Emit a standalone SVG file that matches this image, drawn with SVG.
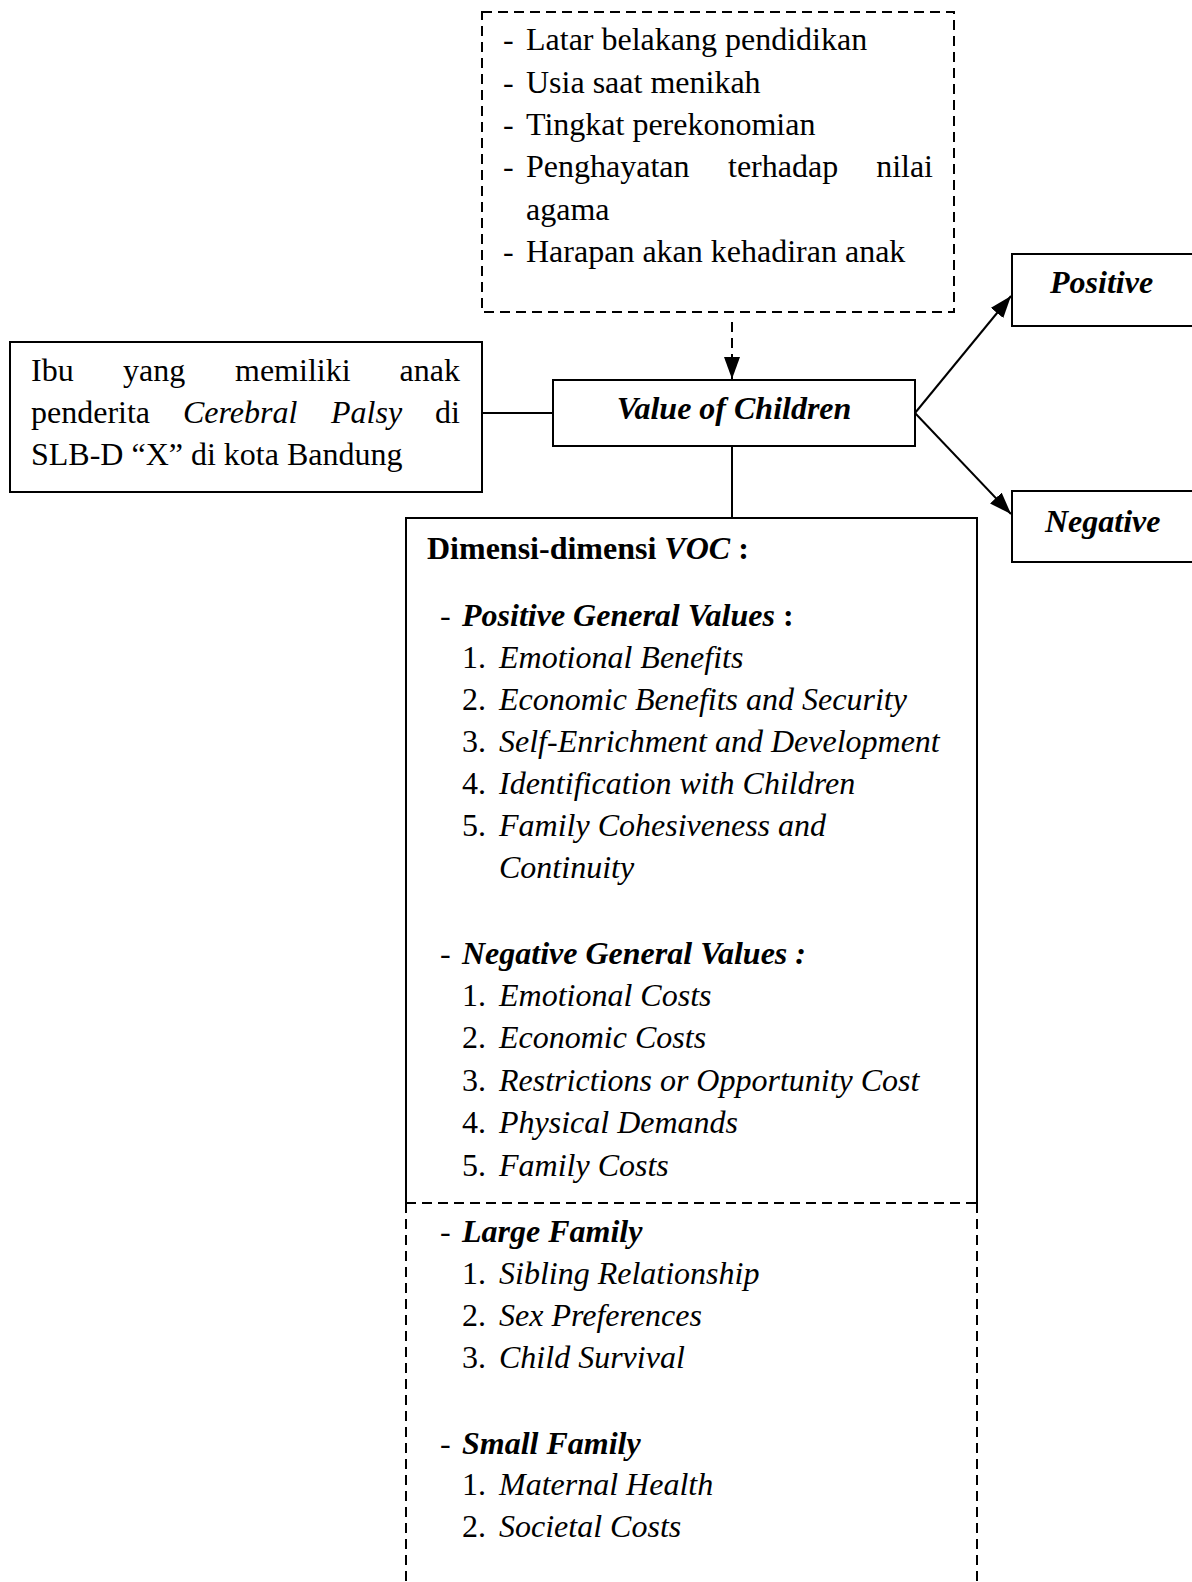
<svg xmlns="http://www.w3.org/2000/svg" width="1192" height="1582" viewBox="0 0 1192 1582">
<style>
.t{font-family:"Liberation Serif","Times New Roman",serif;font-size:32px;fill:#000}
.i{font-style:italic}
.b{font-weight:bold}
.e{text-anchor:end}
.box{fill:#fff;stroke:#000;stroke-width:2}
.dbox{fill:#fff;stroke:#000;stroke-width:2;stroke-dasharray:10 6}
.ln{fill:none;stroke:#000;stroke-width:2}
.dl{fill:none;stroke:#000;stroke-width:2;stroke-dasharray:10 6}
</style>
<defs>
<marker id="arr" viewBox="0 0 22 16" refX="22" refY="8" markerWidth="22" markerHeight="16" markerUnits="userSpaceOnUse" orient="auto">
<path d="M0,0 L22,8 L0,16 z" fill="#000"/>
</marker>
</defs>
<rect width="1192" height="1582" fill="#fff"/>

<g id="connectors">
<line class="dl" x1="732" y1="322" x2="732" y2="379" marker-end="url(#arr)"/>
<line class="ln" x1="482" y1="413" x2="553" y2="413"/>
<line class="ln" x1="732" y1="446" x2="732" y2="518"/>
<line class="ln" x1="915" y1="413" x2="1011" y2="296" marker-end="url(#arr)"/>
<line class="ln" x1="915" y1="413" x2="1011" y2="514" marker-end="url(#arr)"/>
</g>

<g id="factors">
<rect class="dbox" x="482" y="12" width="472" height="300"/>
<text class="t" x="503" y="50">-</text><text class="t" x="526" y="50">Latar belakang pendidikan</text>
<text class="t" x="503" y="92.5">-</text><text class="t" x="526" y="92.5">Usia saat menikah</text>
<text class="t" x="503" y="135">-</text><text class="t" x="526" y="135">Tingkat perekonomian</text>
<text class="t" x="503" y="177">-</text><text class="t" x="526" y="177">Penghayatan</text><text class="t" x="728" y="177">terhadap</text><text class="t e" x="933" y="177">nilai</text>
<text class="t" x="526" y="220">agama</text>
<text class="t" x="503" y="262">-</text><text class="t" x="526" y="262">Harapan akan kehadiran anak</text>
</g>

<g id="subject">
<rect class="box" x="10" y="342" width="472" height="150"/>
<text class="t" x="31" y="381">Ibu</text><text class="t" x="123" y="381">yang</text><text class="t" x="235" y="381">memiliki</text><text class="t e" x="460" y="381">anak</text>
<text class="t" x="31" y="423">penderita</text><text class="t i" x="183" y="423">Cerebral</text><text class="t i" x="331" y="423">Palsy</text><text class="t e" x="460" y="423">di</text>
<text class="t" x="31" y="465">SLB-D “X” di kota Bandung</text>
</g>

<g id="voc">
<rect class="box" x="553" y="380" width="362" height="66"/>
<text class="t b i" x="734" y="419" text-anchor="middle">Value of Children</text>
</g>

<g id="positive">
<rect class="box" x="1012" y="254" width="190" height="72"/>
<text class="t b i" x="1050" y="293">Positive</text>
</g>

<g id="negative">
<rect class="box" x="1012" y="491" width="190" height="71"/>
<text class="t b i" x="1045" y="532">Negative</text>
</g>

<g id="dimensions">
<path class="ln" d="M406,1203 L406,518 L977,518 L977,1203"/>
<path class="dl" d="M406,1203 L977,1203"/>
<path class="dl" d="M406,1203 L406,1582"/>
<path class="dl" d="M977,1203 L977,1582"/>
<text class="t b" x="427" y="559">Dimensi-dimensi <tspan font-style="italic">VOC</tspan> :</text>
<text class="t" x="440" y="626">-</text><text class="t b i" x="462" y="626">Positive General Values<tspan font-style="normal"> :</tspan></text>
<text class="t" x="462" y="668">1.</text><text class="t i" x="499" y="668">Emotional Benefits</text>
<text class="t" x="462" y="710">2.</text><text class="t i" x="499" y="710">Economic Benefits and Security</text>
<text class="t" x="462" y="752">3.</text><text class="t i" x="499" y="752">Self-Enrichment and Development</text>
<text class="t" x="462" y="794">4.</text><text class="t i" x="499" y="794">Identification with Children</text>
<text class="t" x="462" y="836">5.</text><text class="t i" x="499" y="836">Family Cohesiveness and</text>
<text class="t i" x="499" y="878">Continuity</text>
<text class="t" x="440" y="964">-</text><text class="t b i" x="462" y="964">Negative General Values :</text>
<text class="t" x="462" y="1006">1.</text><text class="t i" x="499" y="1006">Emotional Costs</text>
<text class="t" x="462" y="1048">2.</text><text class="t i" x="499" y="1048">Economic Costs</text>
<text class="t" x="462" y="1090.5">3.</text><text class="t i" x="499" y="1090.5">Restrictions or Opportunity Cost</text>
<text class="t" x="462" y="1133">4.</text><text class="t i" x="499" y="1133">Physical Demands</text>
<text class="t" x="462" y="1176">5.</text><text class="t i" x="499" y="1176">Family Costs</text>
<text class="t" x="440" y="1242">-</text><text class="t b i" x="462" y="1242">Large Family</text>
<text class="t" x="462" y="1284">1.</text><text class="t i" x="499" y="1284">Sibling Relationship</text>
<text class="t" x="462" y="1326">2.</text><text class="t i" x="499" y="1326">Sex Preferences</text>
<text class="t" x="462" y="1368">3.</text><text class="t i" x="499" y="1368">Child Survival</text>
<text class="t" x="440" y="1453.5">-</text><text class="t b i" x="462" y="1453.5">Small Family</text>
<text class="t" x="462" y="1495">1.</text><text class="t i" x="499" y="1495">Maternal Health</text>
<text class="t" x="462" y="1537">2.</text><text class="t i" x="499" y="1537">Societal Costs</text>
</g>
</svg>
